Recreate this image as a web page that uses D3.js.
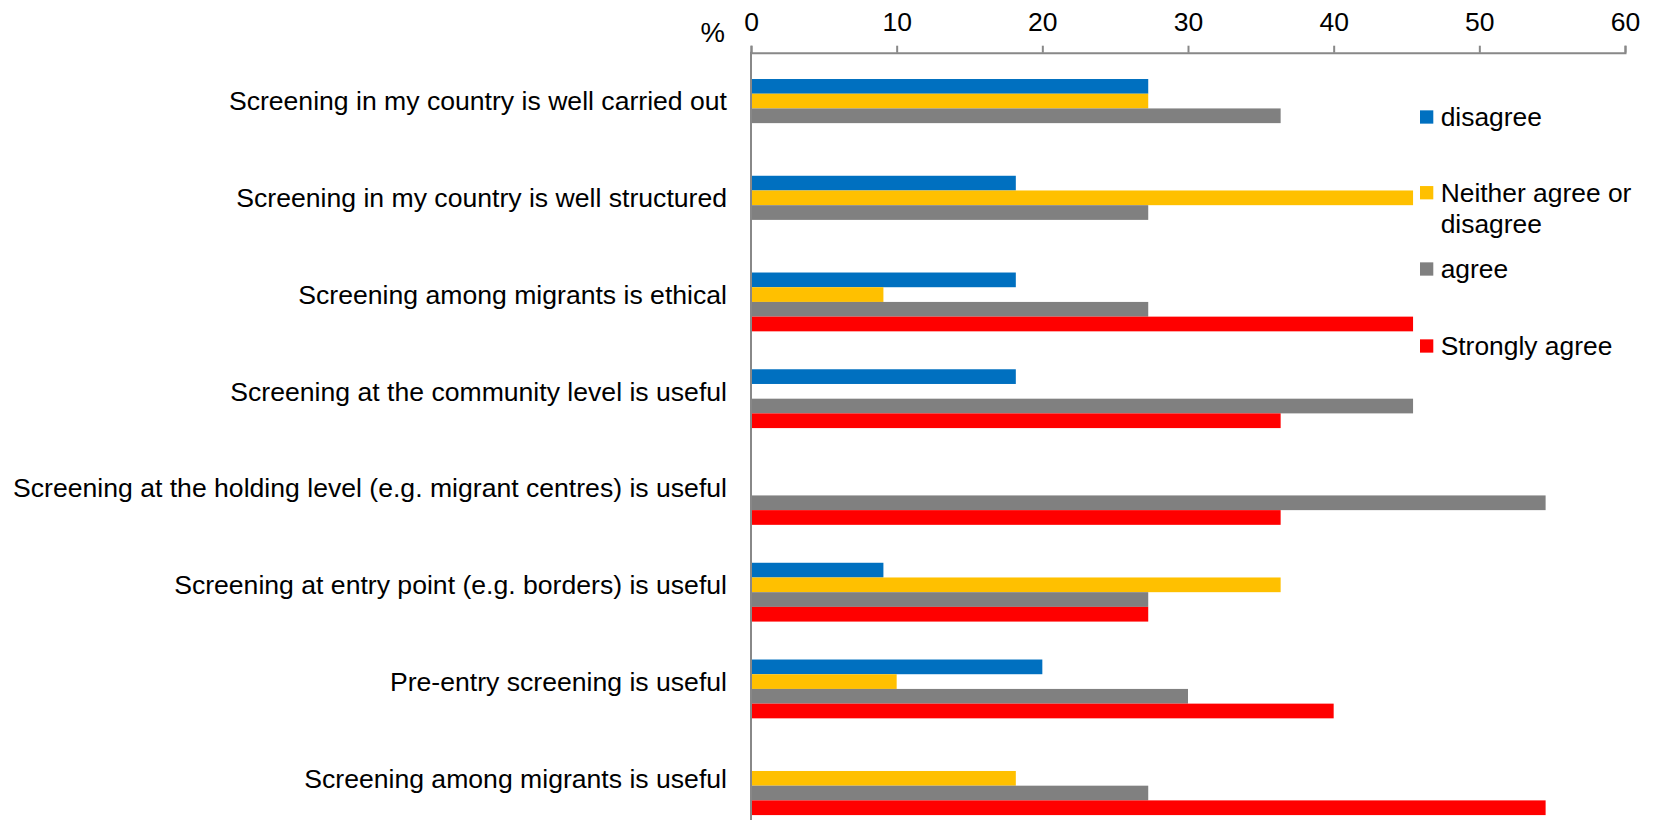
<!DOCTYPE html>
<html>
<head>
<meta charset="utf-8">
<script src="https://cdn.jsdelivr.net/npm/d3@7"></script>
<style>
  html, body { margin: 0; padding: 0; background: #fff; }
  svg { display: block; font-family: "Liberation Sans", Arial, sans-serif; }
</style>
</head>
<body>
<svg id="chart" width="1654" height="820"></svg>
<script>
// ---- data ----
const categories = [
  "Screening in my country is well carried out",
  "Screening in my country is well structured",
  "Screening among migrants is ethical",
  "Screening at the community level is useful",
  "Screening at the holding level (e.g. migrant centres) is useful",
  "Screening at entry point (e.g. borders) is useful",
  "Pre-entry screening is useful",
  "Screening among migrants is useful"
];
const seriesNames = ["disagree", "Neither agree or disagree", "agree", "Strongly agree"];
const disagree      = [27.27, 18.18, 18.18, 18.18, 0,     9.09,  20, 0];
const neither       = [27.27, 45.45, 9.09,  0,     0,     36.36, 10, 18.18];
const agree         = [36.36, 27.27, 27.27, 45.45, 54.55, 27.27, 30, 27.27];
const stronglyAgree = [0,     0,     45.45, 36.36, 36.36, 27.27, 40, 54.55];
const seriesColors  = ["#0070C0", "#FFC000", "#808080", "#FF0000"];
const xTicks = [0, 10, 20, 30, 40, 50, 60];
const axisUnit = "%";

const seriesValues = [disagree, neither, agree, stronglyAgree];

// ---- layout ----
const svg = d3.select("#chart");
const fontSize = 26.6;
const axisColor = "#888888";
const plotTop = 52.7, plotBottom = 826.7;

const x = d3.scaleLinear().domain([0, 60]).range([751, 1625]);
const y = d3.scaleBand().domain(categories).range([plotTop, plotBottom])
  .paddingInner(0.24).paddingOuter(0.12);
// five slots per group: first slot is empty in the original chart
const slots = ["_empty"].concat(seriesNames);
const y1 = d3.scaleBand().domain(slots).range([0, y.bandwidth()]);

// bars
const groups = svg.append("g").selectAll("g")
  .data(categories)
  .join("g")
  .attr("transform", d => `translate(0,${y(d)})`);

groups.selectAll("rect")
  .data((c, i) => seriesNames.map((s, k) => ({ s, k, v: seriesValues[k][i] })))
  .join("rect")
  .filter(d => d.v > 0)
  .attr("x", x(0))
  .attr("y", d => y1(d.s))
  .attr("width", d => x(d.v) - x(0))
  .attr("height", y1.bandwidth())
  .attr("fill", d => seriesColors[d.k]);

// top value axis
const axis = d3.axisTop(x).tickValues(xTicks).tickSize(7).tickSizeOuter(7).tickPadding(14.7);
const gx = svg.append("g").attr("transform", `translate(0,${plotTop})`).call(axis);
gx.select(".domain").attr("stroke", axisColor).attr("stroke-width", 2);
gx.selectAll(".tick line").attr("stroke", axisColor).attr("stroke-width", 2);
gx.selectAll(".tick text")
  .attr("font-size", 26.5)
  .attr("font-family", "'Liberation Sans', Arial, sans-serif")
  .attr("fill", "#000");

svg.append("text")
  .attr("x", 725).attr("y", 42)
  .attr("text-anchor", "end")
  .attr("font-size", 27.5)
  .attr("fill", "#000")
  .text(axisUnit);

// vertical category axis line
svg.append("line")
  .attr("x1", x(0)).attr("x2", x(0))
  .attr("y1", plotTop - 1).attr("y2", 820)
  .attr("stroke", axisColor).attr("stroke-width", 2);

// category labels
svg.append("g").selectAll("text")
  .data(categories)
  .join("text")
  .attr("x", 727)
  .attr("y", d => y(d) + y.bandwidth() / 2)
  .attr("dy", "0.35em")
  .attr("text-anchor", "end")
  .attr("font-size", fontSize)
  .attr("fill", "#000")
  .text(d => d);

// legend
const legendX = 1420, legendSize = 13.3;
const legendRows = [117, 192.7, 269, 346];
const legendLines = [["disagree"], ["Neither agree or", "disagree"], ["agree"], ["Strongly agree"]];
const lg = svg.append("g").selectAll("g")
  .data(seriesNames)
  .join("g")
  .attr("transform", (d, i) => `translate(${legendX},${legendRows[i]})`);
lg.append("rect")
  .attr("x", 0).attr("y", -legendSize / 2)
  .attr("width", legendSize).attr("height", legendSize)
  .attr("fill", (d, i) => seriesColors[i]);
lg.each(function(d, i) {
  const t = d3.select(this).append("text")
    .attr("x", 20.7).attr("y", 0)
    .attr("font-size", 26.4)
    .attr("fill", "#000");
  legendLines[i].forEach((line, j) => {
    t.append("tspan").attr("x", 20.7).attr("dy", j === 0 ? "0.35em" : 30.6).text(line);
  });
});
</script>
</body>
</html>
